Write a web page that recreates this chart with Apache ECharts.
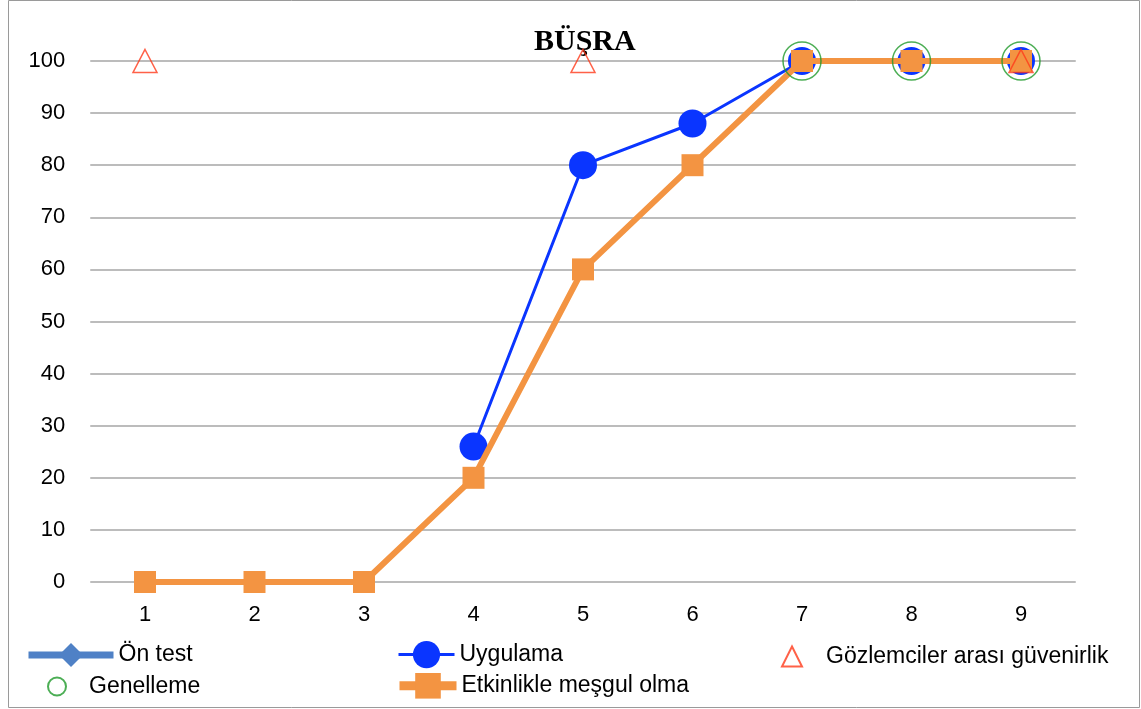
<!DOCTYPE html>
<html><head><meta charset="utf-8">
<script src="https://cdn.jsdelivr.net/npm/echarts@6/dist/echarts.min.js"></script>
<style>html,body{margin:0;padding:0;background:#fff}#c{width:1141px;height:709px}</style>
</head><body><div id="c"></div>
<script>
const categories = ['1','2','3','4','5','6','7','8','9'];
const yTicks = [0,10,20,30,40,50,60,70,80,90,100];
const onTest = [0,0,0,null,null,null,null,null,null];
const uygulama = [null,null,null,26,80,88,100,100,100];
const gozlemciler = [100,null,null,null,100,null,null,null,100];
const genelleme = [null,null,null,null,null,null,100,100,100];
const etkinlik = [0,0,0,20,60,80,100,100,100];
const names = ['Ön test','Uygulama','Gözlemciler arası güvenirlik','Genelleme','Etkinlikle meşgul olma'];
const titleText = 'BÜŞRA';

const font = 'Liberation Sans';
const chart = echarts.init(document.getElementById('c'));
const lg = (item, left, top, w, h, pad) => ({
  data:[item], left:left, top:top, itemWidth:w, itemHeight:h, itemGap:0,
  textStyle:{fontFamily:font, fontSize:23, color:'#000', padding:[0,0,0,pad||0]}, selectedMode:false, padding:0
});
chart.setOption({
  animation:false,
  title:{text:titleText, top:22, left:529, textStyle:{fontFamily:'Liberation Serif', fontWeight:'bold', fontSize:30, color:'#000'}},
  graphic:[{type:'rect', shape:{x:8.5, y:0.5, width:1131, height:707}, style:{fill:'none', stroke:'#9a9a9a', lineWidth:1}, silent:true}],
  grid:{left:90.25, right:65.25, top:61, bottom:127, containLabel:false},
  legend:[
    lg({name:names[0], lineStyle:{width:7}}, 25, 643, 85, 30),
    lg({name:names[1], lineStyle:{width:3}}, 397, 641, 56, 34),
    lg({name:names[2]}, 781, 645, 20, 20, 19),
    lg({name:names[3]}, 47, 675, 18, 18, 18),
    lg({name:names[4], lineStyle:{width:9}}, 395, 673, 57, 32)
  ],
  xAxis:{type:'category', data:categories, boundaryGap:true,
    axisLine:{show:false}, axisTick:{show:false},
    axisLabel:{fontFamily:font, fontSize:22, color:'#000', margin:22}},
  yAxis:{type:'value', min:0, max:100, interval:10,
    axisLine:{show:false}, axisTick:{show:false},
    axisLabel:{fontFamily:font, fontSize:22, color:'#000', margin:25},
    splitLine:{lineStyle:{color:'#a6a6a6', width:1.5}}},
  series:[
    {name:names[0], type:'line', data:onTest, z:2, symbol:'diamond', symbolSize:16,
      itemStyle:{color:'#4f81c6'}, lineStyle:{color:'#4f81c6', width:6}, emphasis:{disabled:true}},
    {name:names[1], type:'line', data:uygulama, z:3, symbol:'circle', symbolSize:28,
      itemStyle:{color:'#0a35ff'}, lineStyle:{color:'#0a35ff', width:3}, emphasis:{disabled:true}},
    {name:names[4], type:'line', data:etkinlik, z:4, symbol:'rect', symbolSize:22,
      itemStyle:{color:'#f39442'}, lineStyle:{color:'#f39442', width:6}, emphasis:{disabled:true}},
    {name:names[3], type:'scatter', data:genelleme, z:5, symbol:'circle', symbolSize:38,
      itemStyle:{color:'transparent', borderColor:'#1f9a2a', borderWidth:1.5}, emphasis:{disabled:true}},
    {name:names[2], type:'scatter', data:gozlemciler, z:6, symbol:'triangle', symbolSize:[24,23],
      itemStyle:{color:'transparent', borderColor:'#ff3a1a', borderWidth:1.5}, emphasis:{disabled:true}}
  ]
});
</script></body></html>
